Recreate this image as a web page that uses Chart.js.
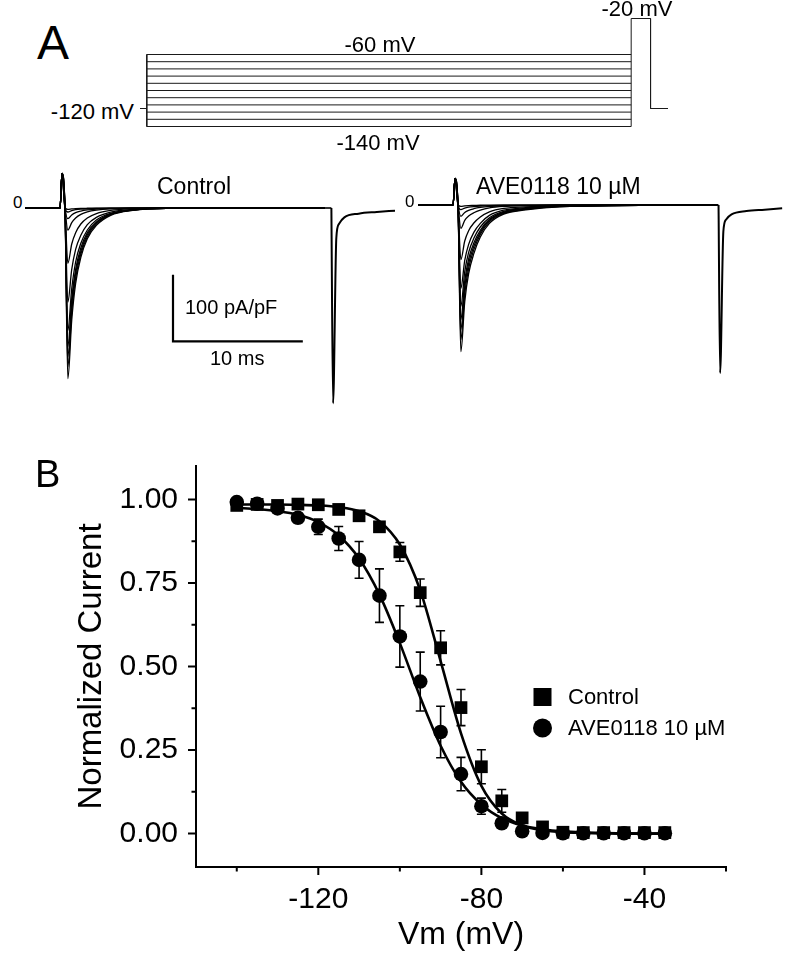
<!DOCTYPE html>
<html><head><meta charset="utf-8">
<script src="https://cdn.jsdelivr.net/npm/chart.js@4/dist/chart.umd.min.js"></script>
<style>
html,body{margin:0;padding:0;background:#fff;}
#fig{position:relative;width:794px;height:966px;overflow:hidden;font-family:"Liberation Sans",Arial,Helvetica,sans-serif;color:#000;}
canvas{position:absolute;}
.t{position:absolute;white-space:nowrap;line-height:1;}
</style></head><body>
<div id="fig">
  <canvas id="proto" width="528" height="117" style="left:140px;top:14px"></canvas>
  <canvas id="ctrl" width="370" height="240" style="left:25px;top:168px"></canvas>
  <canvas id="ave" width="370" height="240" style="left:418px;top:165px"></canvas>
  <canvas id="ssi" width="794" height="536" style="left:0px;top:430px"></canvas>

  <div class="t" style="left:37px;top:19px;font-size:48px">A</div>
  <div class="t" style="left:35px;top:455px;font-size:38px">B</div>

  <div class="t" style="left:380px;top:34px;font-size:22px;transform:translateX(-50%)">-60 mV</div>
  <div class="t" style="left:378px;top:132px;font-size:22px;transform:translateX(-50%)">-140 mV</div>
  <div class="t" style="right:660px;top:101px;font-size:22px">-120 mV</div>
  <div class="t" style="left:637px;top:-2px;font-size:22px;transform:translateX(-50%)">-20 mV</div>

  <div class="t" style="left:157px;top:175px;font-size:23px">Control</div>
  <div class="t" style="left:476px;top:175px;font-size:23px">AVE0118 10 µM</div>
  <div class="t" style="left:13px;top:194px;font-size:17px">0</div>
  <div class="t" style="left:405px;top:193px;font-size:17px">0</div>
  <div class="t" style="left:185px;top:297px;font-size:20px">100 pA/pF</div>
  <div class="t" style="left:210px;top:348px;font-size:20px">10 ms</div>
</div>
<script>
// ---------------- Panel A: voltage protocol (mV, ms) ----------------
const protocolSteps = [-60, -68, -76, -84, -92, -100, -108, -116, -124, -132, -140];
const holdingPotential = -120;
const testPotential = -20;
const holdBeforeMs = 7;
const prepulseMs = 500;
const testPulseMs = 20;
const tailMs = 18;

// ---------------- Panel A: current traces (pA/pF vs ms) ----------------
const traceTimes = [-2.7, 0, 0.15, 0.38, 0.6, 0.9, 1.2, 1.6, 2.1, 2.8, 3.9, 5.6, 8.2, 20.4];
const controlTraces = [
  [0,0,52,0,-256,-168,-113,-74,-46,-26,-11,-3.6,-0.5,0],
  [0,0,52,0,-238,-156,-105,-69,-43,-24,-10,-3.3,-0.5,0],
  [0,0,52,0,-223,-146,-98,-65,-40,-22,-9.6,-3.1,-0.4,0],
  [0,0,52,0,-208,-136,-92,-60,-37,-21,-8.9,-2.9,-0.4,0],
  [0,0,52,0,-184,-121,-81,-53,-33,-18,-7.9,-2.6,-0.4,0],
  [0,0,52,0,-141,-92,-62,-41,-25,-14,-6.1,-2.0,-0.3,0],
  [0,0,52,0,-83,-54,-37,-24,-15,-8.3,-3.6,-1.2,-0.2,0],
  [0,0,52,0,-33,-22,-15,-9.6,-5.9,-3.3,-1.4,-0.5,-0.1,0],
  [0,0,52,0,-16,-10.5,-7,-4.6,-2.9,-1.6,-0.7,-0.2,0,0],
  [0,0,52,0,-6,-3.9,-2.6,-1.7,-1.1,-0.6,-0.3,-0.1,0,0],
  [0,0,52,0,-2,-1.3,-0.9,-0.6,-0.4,-0.2,-0.1,0,0,0]
];
const aveTraces = [
  [0,0,40,0,-220,-145,-103,-73,-48,-27.5,-13.6,-7.3,-2.6,0],
  [0,0,40,0,-202,-133,-95,-67,-44,-25,-12.5,-6.7,-2.4,0],
  [0,0,40,0,-187,-123,-88,-62,-41,-23,-11.6,-6.2,-2.2,0],
  [0,0,40,0,-172,-114,-81,-57,-38,-21.5,-10.7,-5.7,-2.1,0],
  [0,0,40,0,-152,-100,-71,-50,-33,-19,-9.4,-5,-1.8,0],
  [0,0,40,0,-125,-83,-59,-41,-27.5,-15.6,-7.8,-4.1,-1.5,0],
  [0,0,40,0,-82,-54,-38.5,-27,-18,-10.3,-5.1,-2.7,-1,0],
  [0,0,40,0,-35,-23,-16.5,-11.6,-7.7,-4.4,-2.2,-1.2,-0.4,0],
  [0,0,40,0,-17,-11.2,-8,-5.6,-3.7,-2.1,-1.1,-0.6,-0.2,0],
  [0,0,40,0,-7,-4.6,-3.3,-2.3,-1.5,-0.9,-0.4,-0.2,-0.1,0],
  [0,0,40,0,-2,-1.3,-0.9,-0.7,-0.4,-0.3,-0.1,-0.1,0,0]
];
const controlTailTimes = [20.9, 21.03, 21.28, 21.48, 21.9, 23.0, 24.4, 25.8];
const controlTail = [0, -293, -45, -24, -14, -8.5, -6, -4];
const aveTailTimes = [20.45, 20.57, 20.82, 21.02, 21.45, 22.6, 24.0, 25.35];
const aveTail = [0, -252, -40, -22, -14, -9, -7, -5];
const scaleBarStartMs = 8.7;
const scaleBarBaseCurrent = -200;
const scaleBarMs = 10;
const scaleBarCurrent = 100;

// ---------------- Panel B: steady-state inactivation ----------------
const voltages = [-140,-135,-130,-125,-120,-115,-110,-105,-100,-95,-90,-85,-80,-75,-70,-65,-60,-55,-50,-45,-40,-35];
const controlMean = [0.982,0.985,0.982,0.986,0.984,0.970,0.951,0.918,0.843,0.721,0.556,0.377,0.200,0.098,0.047,0.020,0.004,0.003,0.003,0.003,0.003,0.003];
const controlSem  = [0.006,0.005,0.006,0.005,0.006,0.008,0.010,0.014,0.028,0.041,0.051,0.054,0.051,0.034,0.015,0.008,0.004,0.003,0.003,0.003,0.003,0.003];
const aveMean = [0.992,0.987,0.973,0.945,0.918,0.883,0.819,0.712,0.590,0.455,0.304,0.178,0.082,0.031,0.007,0.002,0.001,0.001,0.001,0.001,0.001,0.001];
const aveSem  = [0.005,0.008,0.012,0.015,0.023,0.036,0.055,0.080,0.092,0.088,0.077,0.050,0.024,0.012,0.006,0.003,0.003,0.003,0.003,0.003,0.003,0.003];
const controlFit = [0.985,0.985,0.985,0.984,0.982,0.977,0.965,0.935,0.865,0.728,0.516,0.300,0.143,0.060,0.024,0.010,0.004,0.002,0.001,0,0,0];
const aveFit = [0.975,0.971,0.965,0.954,0.932,0.892,0.823,0.715,0.570,0.408,0.263,0.155,0.087,0.046,0.024,0.013,0.0065,0.0034,0.0017,0.0009,0,0];
const xMajorTicks = [-120, -80, -40];
const xMinorTicks = [-140, -100, -60, -20];
const yMajorTicks = [0, 0.25, 0.5, 0.75, 1.0];
const yMinorTicks = [0.125, 0.375, 0.625, 0.875];
const seriesNames = ['Control', 'AVE0118 10 µM'];

const FONT = '"Liberation Sans", Arial, Helvetica, sans-serif';
Chart.defaults.font.family = FONT;
Chart.defaults.color = '#000';

const bare = (xmin, xmax, ymin, ymax) => ({
  responsive: false, animation: false, events: [],
  layout: { padding: 0 },
  plugins: { legend: { display: false }, tooltip: { enabled: false } },
  scales: {
    x: { type: 'linear', display: false, min: xmin, max: xmax },
    y: { type: 'linear', display: false, min: ymin, max: ymax }
  }
});
const lineDs = (pts, w, color, smooth) => ({
  data: pts, showLine: true, borderColor: color || '#000', borderWidth: w,
  pointRadius: 0, clip: false, fill: false,
  cubicInterpolationMode: smooth ? 'monotone' : 'default', tension: 0
});

// ---- protocol chart
(function () {
  const ds = [];
  const tEnd = prepulseMs, tTest = prepulseMs + testPulseMs, tTail = tTest + tailMs;
  protocolSteps.forEach(v => ds.push(lineDs([{x: 0, y: v}, {x: tEnd, y: v}], 1, '#1a1a1a')));
  ds.push(lineDs([{x: 0, y: protocolSteps[0]}, {x: 0, y: protocolSteps[protocolSteps.length - 1]}], 1, '#1a1a1a'));
  ds.push(lineDs([{x: -holdBeforeMs, y: holdingPotential}, {x: 0, y: holdingPotential}], 1, '#1a1a1a'));
  ds.push(lineDs([
    {x: tEnd, y: protocolSteps[protocolSteps.length - 1]},
    {x: tEnd, y: testPotential},
    {x: tTest, y: testPotential},
    {x: tTest, y: holdingPotential},
    {x: tTail, y: holdingPotential}
  ], 1, '#1a1a1a'));
  new Chart(document.getElementById('proto'), {
    type: 'scatter', data: { datasets: ds },
    options: bare(-holdBeforeMs, prepulseMs + testPulseMs + tailMs, -145, -15)
  });
})();

// ---- current trace charts
function traceChart(id, traces, tailT, tail, withBar) {
  const ds = traces.map(arr => lineDs(traceTimes.map((t, i) => ({x: t, y: arr[i]})), 1.3, '#000', true));
  ds.push(lineDs([{x: traceTimes[traceTimes.length - 1], y: 0}, {x: tailT[0], y: 0}], 1.6, '#000', false));
  ds.push(lineDs(tailT.map((t, i) => ({x: t, y: tail[i]})), 2, '#000', true));
  if (withBar) {
    ds.push(lineDs([
      {x: scaleBarStartMs, y: scaleBarBaseCurrent + scaleBarCurrent},
      {x: scaleBarStartMs, y: scaleBarBaseCurrent},
      {x: scaleBarStartMs + scaleBarMs, y: scaleBarBaseCurrent}
    ], 2.2, '#000', false));
  }
  new Chart(document.getElementById(id), {
    type: 'scatter', data: { datasets: ds },
    options: bare(-2.7, 25.8, -300, 60)
  });
}
traceChart('ctrl', controlTraces, controlTailTimes, controlTail, true);
traceChart('ave', aveTraces, aveTailTimes, aveTail, false);

// ---- Panel B
const errorBars = {
  id: 'errorBars',
  beforeDatasetsDraw(chart) {
    const {ctx, scales: {x, y}} = chart;
    ctx.save();
    ctx.strokeStyle = '#000'; ctx.lineWidth = 1.6;
    chart.data.datasets.forEach(ds => {
      if (!ds.errors) return;
      ds.data.forEach((p, j) => {
        const e = ds.errors[j];
        const px = x.getPixelForValue(p.x);
        const y1 = y.getPixelForValue(p.y + e), y2 = y.getPixelForValue(p.y - e);
        ctx.beginPath();
        ctx.moveTo(px, y1); ctx.lineTo(px, y2);
        ctx.moveTo(px - 4.5, y1); ctx.lineTo(px + 4.5, y1);
        ctx.moveTo(px - 4.5, y2); ctx.lineTo(px + 4.5, y2);
        ctx.stroke();
      });
    });
    ctx.restore();
  }
};
const axisTicks = {
  id: 'axisTicks',
  afterDraw(chart) {
    const {ctx, chartArea: a, scales: {x, y}} = chart;
    ctx.save();
    ctx.strokeStyle = '#000'; ctx.lineWidth = 2;
    ctx.beginPath();
    xMajorTicks.forEach(v => { const p = x.getPixelForValue(v); ctx.moveTo(p, a.bottom); ctx.lineTo(p, a.bottom + 8); });
    xMinorTicks.forEach(v => { const p = x.getPixelForValue(v); ctx.moveTo(p, a.bottom); ctx.lineTo(p, a.bottom + 4.5); });
    yMajorTicks.forEach(v => { const p = y.getPixelForValue(v); ctx.moveTo(a.left, p); ctx.lineTo(a.left - 8, p); });
    yMinorTicks.forEach(v => { const p = y.getPixelForValue(v); ctx.moveTo(a.left, p); ctx.lineTo(a.left - 4.5, p); });
    ctx.stroke();
    ctx.restore();
  }
};
const boxLegend = {
  id: 'boxLegend',
  afterDraw(chart) {
    const {ctx, chartArea: a} = chart;
    const lx = a.left + 346.5, ly = a.top + 231, gap = 31;
    ctx.save();
    ctx.fillStyle = '#000';
    ctx.fillRect(lx - 9, ly - 9, 18, 18);
    ctx.beginPath(); ctx.arc(lx, ly + gap, 9.5, 0, Math.PI * 2); ctx.fill();
    ctx.font = '22px ' + FONT;
    ctx.textBaseline = 'middle'; ctx.textAlign = 'left';
    ctx.fillText(seriesNames[0], lx + 25.5, ly + 1);
    ctx.fillText(seriesNames[1], lx + 25.5, ly + gap + 1);
    ctx.restore();
  }
};

new Chart(document.getElementById('ssi'), {
  type: 'scatter',
  data: {
    datasets: [
      Object.assign(lineDs(voltages.map((v, i) => ({x: v, y: controlFit[i]})), 2.6, '#000', true), {label: 'Control fit'}),
      Object.assign(lineDs(voltages.map((v, i) => ({x: v, y: aveFit[i]})), 2.6, '#000', true), {label: 'AVE fit'}),
      { label: seriesNames[0], data: voltages.map((v, i) => ({x: v, y: controlMean[i]})), errors: controlSem,
        pointStyle: 'rect', pointRadius: 9, backgroundColor: '#000', borderColor: '#000', borderWidth: 0, showLine: false, clip: false },
      { label: seriesNames[1], data: voltages.map((v, i) => ({x: v, y: aveMean[i]})), errors: aveSem,
        pointStyle: 'circle', pointRadius: 7.3, backgroundColor: '#000', borderColor: '#000', borderWidth: 0, showLine: false, clip: false }
    ]
  },
  options: {
    responsive: false, animation: false, events: [],
    layout: { padding: { left: 0, right: 68, top: 11, bottom: 0 } },
    plugins: { legend: { display: false }, tooltip: { enabled: false } },
    scales: {
      x: {
        type: 'linear', min: -150, max: -20,
        afterBuildTicks: s => { s.ticks = xMajorTicks.map(v => ({value: v})); },
        afterFit: s => { s.height = 99; },
        grid: { display: false, drawTicks: false },
        border: { display: true, color: '#000', width: 2 },
        ticks: { font: { size: 30 }, color: '#000', padding: 15, maxRotation: 0, autoSkip: false,
                 callback: v => String(v) },
        title: { display: true, text: 'Vm (mV)', font: { size: 32 }, color: '#000', padding: { top: 0, bottom: 12 } }
      },
      y: {
        type: 'linear', min: -0.1, max: 1.1,
        afterBuildTicks: s => { s.ticks = yMajorTicks.map(v => ({value: v})); },
        afterFit: s => { s.width = 196; },
        grid: { display: false, drawTicks: false },
        border: { display: true, color: '#000', width: 2 },
        ticks: { font: { size: 30 }, color: '#000', padding: 18, callback: v => Number(v).toFixed(2) },
        title: { display: true, text: 'Normalized Current', font: { size: 33 }, color: '#000', padding: { top: 72, bottom: 0 } }
      }
    }
  },
  plugins: [errorBars, axisTicks, boxLegend]
});
</script>
</body></html>
